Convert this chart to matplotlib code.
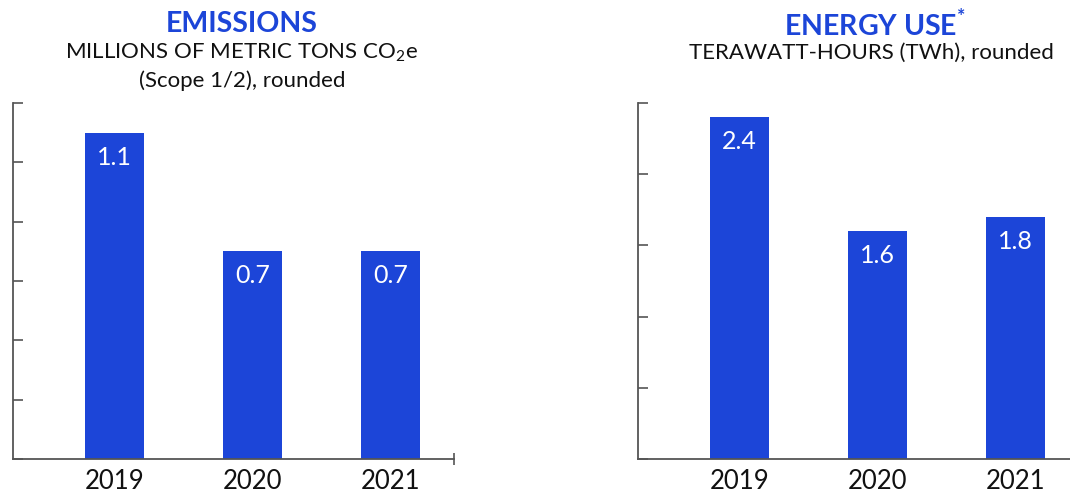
import matplotlib
matplotlib.use("Agg")
import matplotlib.pyplot as plt

plt.rcParams['font.family'] = ['Lato', 'DejaVu Sans']
plt.rcParams['mathtext.fontset'] = 'custom'
plt.rcParams['mathtext.rm'] = 'Lato'
plt.rcParams['mathtext.bf'] = 'Lato:bold'

years = ["2019", "2020", "2021"]
emissions = [1.1, 0.7, 0.7]
emission_labels = ["1.1", "0.7", "0.7"]
energy = [2.4, 1.6, 1.7]
energy_labels = ["2.4", "1.6", "1.8"]

BLUE = "#1c45d8"
GRAY = "#555555"

fig = plt.figure(figsize=(10.70, 4.97), dpi=100)

def panel(rect, values, labels, ymax, ystep, end_tick):
    ax = fig.add_axes(rect)
    x = list(range(len(years)))
    bars = ax.bar(x, values, width=0.43, color=BLUE, zorder=2)
    ax.set_xlim(-0.735, 2.46)
    ax.set_ylim(0, ymax)
    n = int(round(ymax / ystep))
    ax.set_yticks([i * ystep for i in range(n + 1)])
    ax.set_yticklabels([])
    ax.tick_params(axis='y', direction='in', length=7.5, width=1.2, color=GRAY)
    ax.set_xticks(x)
    ax.set_xticklabels(years, fontsize=18.5, color="#111111")
    ax.tick_params(axis='x', length=0, pad=7)
    if end_tick:
        ax.set_xticks([2.46], minor=True)
        ax.tick_params(axis='x', which='minor', direction='inout', length=9, width=1.2, color=GRAY)
    for s in ('top', 'right'):
        ax.spines[s].set_visible(False)
    for s in ('left', 'bottom'):
        ax.spines[s].set_color(GRAY)
        ax.spines[s].set_linewidth(1.3)
    for b, lab in zip(bars, labels):
        ax.annotate(lab, (b.get_x() + b.get_width() / 2, b.get_height()),
                    xytext=(0, -23), textcoords='offset points',
                    ha='center', va='baseline', color='white', fontsize=18)
    return ax

panel([13/1070, 38/497, 441/1070, 356/497], emissions, emission_labels, 1.2, 0.2, True)
panel([638/1070, 38/497, 441/1070, 356/497], energy, energy_labels, 2.5, 0.5, False)

fig.text(242/1070, 1 - 24/497, "EMISSIONS", ha='center', va='center',
         fontsize=20.5, fontweight='bold', color=BLUE)
fig.text(242/1070, 1 - 53/497, r"MILLIONS OF METRIC TONS CO$_\mathrm{2}$e", ha='center', va='center',
         fontsize=16, color="#111111")
fig.text(242/1070, 1 - 81/497, "(Scope 1/2), rounded", ha='center', va='center',
         fontsize=16, color="#111111")

fig.text(875/1070, 1 - 24/497, r"ENERGY USE$^{\mathbf{*}}$", ha='center', va='center',
         fontsize=20.5, fontweight='bold', color=BLUE)
fig.text(871/1070, 1 - 53/497, "TERAWATT-HOURS (TWh), rounded", ha='center', va='center',
         fontsize=16, color="#111111")

fig.savefig("out.png", dpi=100)
